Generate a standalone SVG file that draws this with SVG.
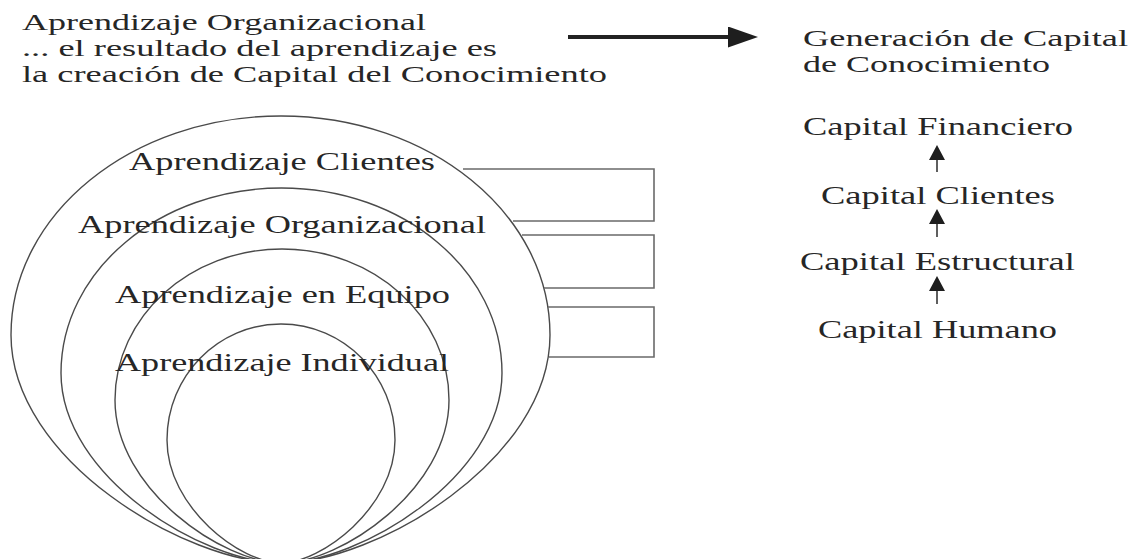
<svg xmlns="http://www.w3.org/2000/svg" width="1140" height="559" viewBox="0 0 1140 559">
<style>
text{font-family:"Liberation Serif","Times New Roman",serif;font-size:26px;fill:#262626}
.stack{font-size:23px}
.ring{fill:none;stroke:#4a4a4a;stroke-width:1.4}
.box{fill:none;stroke:#6a6a6a;stroke-width:1.6}
.arr{stroke:#2a2a2a;stroke-width:1.5;fill:none}
.big{stroke:#222;stroke-width:4;fill:none}
</style>
<defs>
<marker id="sh" viewBox="0 0 15 16" refX="0" refY="8" markerWidth="15" markerHeight="16" markerUnits="userSpaceOnUse" orient="auto"><path d="M0,0 L15,8 L0,16 z" fill="#1e1e1e"/></marker>
<marker id="bh" viewBox="0 0 30 21" refX="0" refY="10.5" markerWidth="30" markerHeight="21" markerUnits="userSpaceOnUse" orient="auto"><path d="M0,0 L30,10.5 L0,21 z" fill="#1e1e1e"/></marker>
</defs>
<rect width="1140" height="559" fill="#fff"/>

<g id="intro">
<text class="stack" x="22" y="30" textLength="404" lengthAdjust="spacingAndGlyphs">Aprendizaje Organizacional</text>
<text class="stack" x="22" y="56" textLength="475" lengthAdjust="spacingAndGlyphs">... el resultado del aprendizaje es</text>
<text class="stack" x="22" y="82" textLength="585" lengthAdjust="spacingAndGlyphs">la creación de Capital del Conocimiento</text>
</g>

<g id="generacion">
<text class="stack" x="803" y="46" textLength="325" lengthAdjust="spacingAndGlyphs">Generación de Capital</text>
<text class="stack" x="803" y="72" textLength="247" lengthAdjust="spacingAndGlyphs">de Conocimiento</text>
</g>

<g id="ring-clientes">
<path class="ring" d="M281,116 C429.6,116 550,213.8 550,335 C550,460.4 375.2,563 281,563 C186.5,563 11,460.4 11,335 C11,213.8 131.9,116 281,116 Z"/>
<text x="129" y="170" textLength="306" lengthAdjust="spacingAndGlyphs">Aprendizaje Clientes</text>
</g>
<g id="ring-organizacional">
<path class="ring" d="M281.5,188 C403.3,188 502,270.8 502,373 C502,477.5 358.7,563 281.5,563 C204.3,563 61,477.5 61,373 C61,270.8 159.7,188 281.5,188 Z"/>
<text x="78" y="233" textLength="408" lengthAdjust="spacingAndGlyphs">Aprendizaje Organizacional</text>
</g>
<g id="ring-equipo">
<path class="ring" d="M282,249 C374.2,249 449,316.6 449,400 C449,489.7 340.5,563 282,563 C223.5,563 115,489.7 115,400 C115,316.6 189.8,249 282,249 Z"/>
<text x="115" y="303" textLength="335" lengthAdjust="spacingAndGlyphs">Aprendizaje en Equipo</text>
</g>
<g id="ring-individual">
<path class="ring" d="M281,324 C344,324 395,375.9 395,440 C395,507.7 320.9,563 281,563 C241.1,563 167,507.7 167,440 C167,375.9 218,324 281,324 Z"/>
<text x="115" y="371" textLength="334" lengthAdjust="spacingAndGlyphs">Aprendizaje Individual</text>
</g>

<g id="cap-financiero"><text x="803" y="135" textLength="270" lengthAdjust="spacingAndGlyphs">Capital Financiero</text></g>
<g id="cap-clientes"><text x="821" y="204" textLength="234" lengthAdjust="spacingAndGlyphs">Capital Clientes</text></g>
<g id="cap-estructural"><text x="800" y="270" textLength="275" lengthAdjust="spacingAndGlyphs">Capital Estructural</text></g>
<g id="cap-humano"><text x="818" y="338" textLength="239" lengthAdjust="spacingAndGlyphs">Capital Humano</text></g>

<g id="connectors">
<line class="big" x1="568" y1="37" x2="728" y2="37" marker-end="url(#bh)"/>
<line class="arr" x1="937" y1="172" x2="937" y2="160" marker-end="url(#sh)"/>
<line class="arr" x1="937" y1="237" x2="937" y2="224" marker-end="url(#sh)"/>
<line class="arr" x1="937" y1="304" x2="937" y2="291" marker-end="url(#sh)"/>
<path class="box" d="M463,169 H654 V221 H513"/>
<path class="box" d="M522,235 H654 V288 H544"/>
<path class="box" d="M548,307 H654 V357 H549"/>
</g>
</svg>
